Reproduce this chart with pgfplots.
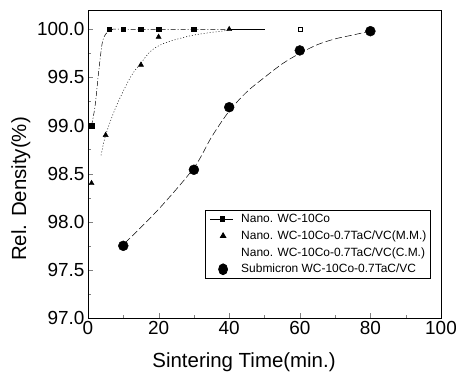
\documentclass[border=0pt]{standalone}
\usepackage{pgfplots}
\pgfplotsset{compat=1.18}
\usepackage{fontspec}
\setmainfont{Liberation Sans}
\begin{document}
\begin{tikzpicture}
\begin{axis}[
  scale only axis, width=353bp, height=308bp,
  xmin=0, xmax=100, ymin=97.0, ymax=100.2,
  xtick={0,20,40,60,80,100}, minor xtick={10,30,50,70,90},
  ytick={97.0,97.5,98.0,98.5,99.0,99.5,100.0}, minor ytick={97.25,97.75,98.25,98.75,99.25,99.75},
  tick align=inside, xtick pos=bottom, ytick pos=left,
  major tick length=5bp, minor tick length=3bp,
  /pgf/number format/assume math mode=true,
  yticklabel style={/pgf/number format/.cd, fixed, fixed zerofill, precision=1},
  xticklabel style={/pgf/number format/.cd, fixed, precision=0},
  tick label style={font=\fontsize{19}{21}\selectfont},
  label style={font=\fontsize{20.5}{22}\selectfont},
  xlabel={Sintering Time(min.)},
  ylabel={Rel. Density(\%)},
  xlabel style={at={(axis description cs:0.442,-0.143)}, anchor=center},
  ylabel style={at={(axis description cs:-0.19,0.419)}, anchor=center},
  axis line style={line width=0.8pt},
  legend style={at={(0.971,0.351)}, anchor=north east, draw=black, line width=0.8pt,
    font=\fontsize{12}{13}\selectfont, row sep=2.6bp, inner xsep=2bp, inner ysep=2bp, cells={anchor=west}},
]
\coordinate (ll) at (rel axis cs:0,0);
\coordinate (ur) at (rel axis cs:1,1);
% fit curves
\addplot[forget plot, black, line width=0.5pt, dash pattern=on 5pt off 2pt on 1pt off 2pt, smooth, tension=0.5] coordinates {
(1,99.0) (2,99.2) (3,99.55) (4,99.85) (5,99.95) (7,100) (10,100) (20,100) (30,100) (40,100)};
\addplot[forget plot, black, line width=0.6pt] coordinates {(40,100) (50,100)};
\addplot[forget plot, black, line width=0.5pt, dash pattern=on 1pt off 2pt, smooth] coordinates {
(3.7,98.69) (5,98.9) (8,99.2) (12,99.5) (15,99.65) (18,99.78) (22,99.86) (30,99.94) (40,99.99)};
\addplot[forget plot, black, line width=0.5pt, dash pattern=on 7pt off 3pt, smooth] coordinates {
(10.5,97.78) (20,98.13) (30,98.56) (35,98.88) (40,99.15) (45,99.35) (50,99.5) (55,99.64) (60,99.75) (65,99.84) (70,99.9) (75,99.94) (80,99.98)};
% data
\addplot[black, line width=0.5pt, mark=square*, mark size=2.3pt, mark options={solid}, only marks,
  legend image code/.code={\path[draw=none] (-0.28cm,0cm) -- (0.85cm,0cm); \draw[black, line width=0.6pt] (-0.18cm,0cm) -- (0.64cm,0cm); \fill[black] (0.25cm,0cm) +(-2pt,-2.5pt) rectangle +(2pt,2.5pt);}] coordinates {
(1,99.0) (6,100.0) (10,100.0) (15,100.0) (20,100.0) (30,100.0)};
\addlegendentry{Nano. WC-10Co}
\addplot[black, only marks, mark=triangle*, mark size=3pt,
  legend image code/.code={\path[draw=none] (-0.28cm,0cm) -- (0.85cm,0cm); \fill[black] (0.28cm,3pt) -- ++(-2.8pt,-4.8pt) -- ++(5.6pt,0pt) -- cycle;}] coordinates {
(1,98.4) (5,98.9) (15,99.63) (20,99.92) (40,100.0)};
\addlegendentry{Nano. WC-10Co-0.7TaC/VC(M.M.)}
\addplot[black, only marks, mark=square, mark size=2pt, legend image code/.code={\path[draw=none] (-0.28cm,0cm) -- (0.85cm,0cm);}] coordinates {
(60,100.0)};
\addlegendentry{Nano. WC-10Co-0.7TaC/VC(C.M.)}
\addplot[black, only marks, mark=*, mark size=5pt,
  legend image code/.code={\path[draw=none] (-0.28cm,0cm) -- (0.85cm,0cm); \fill[black] (0.28cm,0cm) ellipse (4.5pt and 5.5pt);}] coordinates {
(10,97.75) (30,98.54) (40,99.19) (60,99.78) (80,99.98)};
\addlegendentry{Submicron WC-10Co-0.7TaC/VC}
\end{axis}
\pgfresetboundingbox
\path ([shift={(-88bp,-67bp)}]ll) rectangle ([shift={(15bp,10bp)}]ur);
\end{tikzpicture}
\end{document}
